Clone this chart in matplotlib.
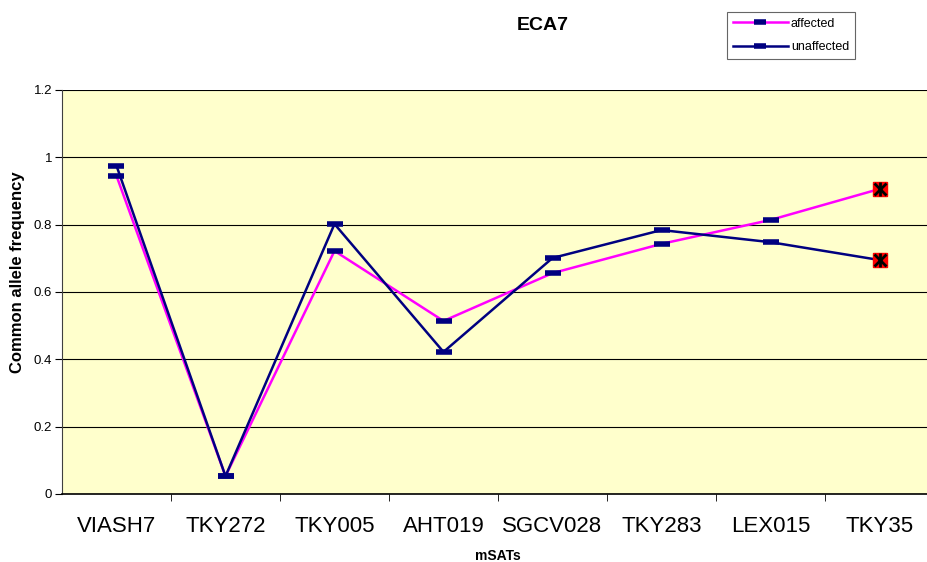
import numpy as np
import matplotlib.pyplot as plt
from matplotlib.lines import Line2D

plt.rcParams['font.family'] = ['Liberation Sans', 'DejaVu Sans']

markers_loci = ['VIASH7', 'TKY272', 'TKY005', 'AHT019', 'SGCV028', 'TKY283', 'LEX015', 'TKY35']
affected = [0.945, 0.053, 0.722, 0.514, 0.656, 0.743, 0.814, 0.906]
unaffected = [0.975, 0.053, 0.802, 0.422, 0.701, 0.784, 0.748, 0.695]

fig = plt.figure(figsize=(9.28, 5.62), dpi=100)
ax = fig.add_axes([62/928, 68/562, 872/928, 404/562])
ax.set_facecolor('#FFFFCC')

x = np.arange(len(markers_loci))

# lines first, then the dash markers on top
ax.plot(x, affected, color='#FF00FF', lw=1.8, zorder=3)
ax.plot(x, unaffected, color='#000080', lw=1.8, zorder=4)
for vals in (affected, unaffected):
    ax.plot(x[:-1], vals[:-1], ls='none', marker='_', ms=12, mew=4, color='#000080', zorder=5)
    # last locus gets the red star-box marker
    ax.plot(x[-1], vals[-1], ls='none', marker='s', ms=10, color='red', mec='red', zorder=6)
    ax.plot(x[-1], vals[-1], ls='none', marker='x', ms=9, mew=2, color='black', zorder=7)
    ax.plot(x[-1], vals[-1], ls='none', marker='|', ms=10, mew=2, color='black', zorder=7)

ax.set_xlim(-0.5, len(markers_loci) - 0.5)
ax.set_ylim(0, 1.2)
ax.set_yticks(np.arange(0, 1.21, 0.2))
ax.set_yticklabels(['0', '0.2', '0.4', '0.6', '0.8', '1', '1.2'], fontsize=9.5)
ax.yaxis.grid(True, color='black', lw=0.8)
ax.set_axisbelow(True)

ax.set_xticks(x)
ax.set_xticklabels(markers_loci, fontsize=16)
ax.set_xticks(np.arange(0.5, len(markers_loci) - 0.5, 1), minor=True)
ax.tick_params(axis='x', which='major', length=0, pad=16)
ax.tick_params(axis='x', which='minor', length=5, direction='out', color='black')
ax.tick_params(axis='y', length=5, direction='out', pad=2)

for side in ('top', 'right'):
    ax.spines[side].set_visible(False)
ax.spines['left'].set_color('#404040')
ax.spines['bottom'].set_color('black')
ax.spines['bottom'].set_linewidth(1.2)

ax.set_xlabel('mSATs', fontsize=10, fontweight='bold')
ax.xaxis.set_label_coords(0.5, -(556 - 494) / 404, transform=ax.transAxes)
ax.xaxis.label.set_va('center')
ax.set_ylabel('Common allele frequency', fontsize=12, fontweight='bold')
ax.yaxis.set_label_coords(-37/872, (494 - 272) / 404)
fig.text(543/928, 1 - 25/562, 'ECA7', fontsize=14, fontweight='bold', ha='center', va='center')

handles = [
    Line2D([], [], color='#FF00FF', lw=1.8, marker='_', ms=8, mew=4, mec='#000080'),
    Line2D([], [], color='#000080', lw=1.8, marker='_', ms=8, mew=4, mec='#000080'),
]
leg = fig.legend(handles, ['affected', 'unaffected'], loc='upper left',
                 bbox_to_anchor=(727/928, 1 - 12/562), fontsize=9, frameon=True,
                 fancybox=False, edgecolor='#404040', handlelength=4.4,
                 handletextpad=0.25, labelspacing=0.9, borderpad=0.45,
                 borderaxespad=0)
leg.get_frame().set_linewidth(0.8)

fig.savefig('out.png', dpi=100)
